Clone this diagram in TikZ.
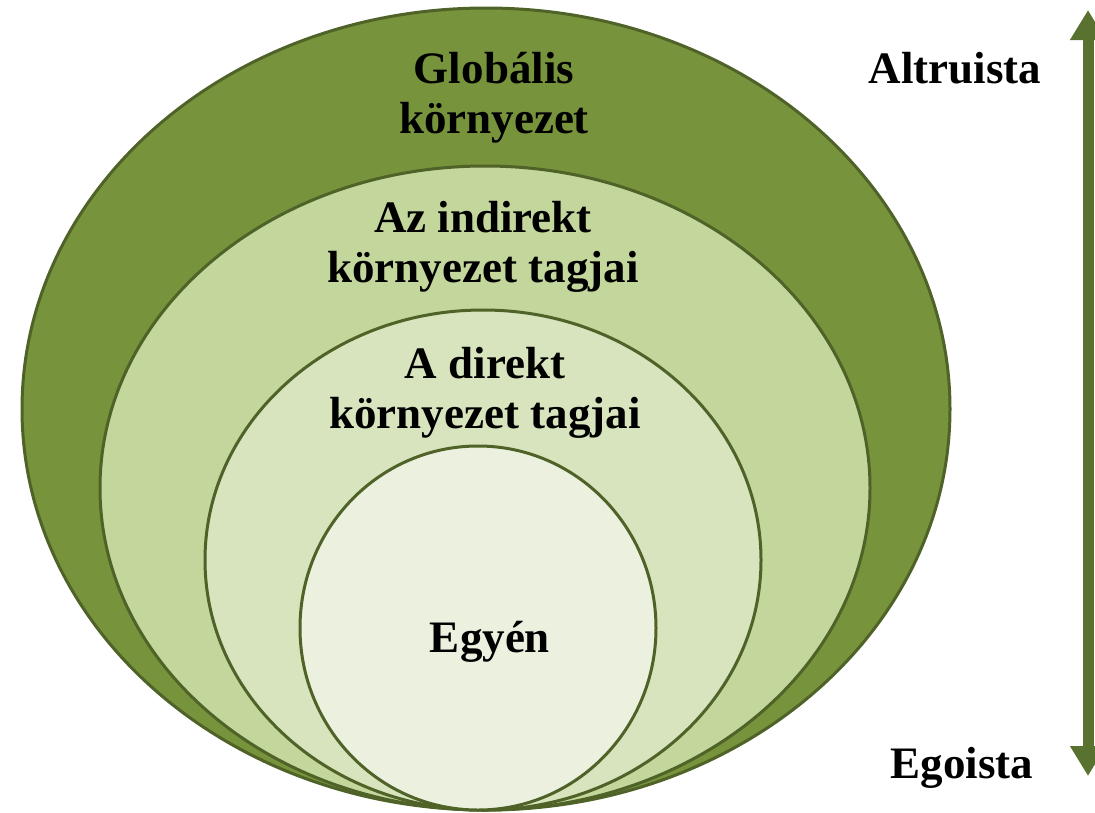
\documentclass[tikz,border=0pt]{standalone}
\usepackage{fontspec}
\setmainfont{Liberation Serif}
\usetikzlibrary{shapes.geometric,arrows.meta}
\definecolor{ringA}{HTML}{77933C}
\definecolor{ringB}{HTML}{C3D69B}
\definecolor{ringC}{HTML}{D7E4BD}
\definecolor{ringD}{HTML}{EBF1DE}
\definecolor{edgecol}{HTML}{4F6228}
\definecolor{arrowcol}{HTML}{5A7230}
\tikzset{
  ring/.style={ellipse, draw=edgecol, line width=3pt, inner sep=0pt, outer sep=0pt},
  lbl/.style={font=\bfseries\fontsize{45}{50}\selectfont, align=center, inner sep=0pt, text=black},
  axisarrow/.style={arrowcol, line width=11pt, {Triangle[width=34pt,length=30pt]}-{Triangle[width=34pt,length=30pt]}}
}
\begin{document}
\begin{tikzpicture}[x=1pt,y=-1pt]
\useasboundingbox (0,0) rectangle (1095,812);
\node[ring, fill=ringA, minimum width=928pt, minimum height=802pt] (global) at (486,409) {};
\node[ring, fill=ringB, minimum width=770pt, minimum height=644pt] (indirect) at (485,488) {};
\node[ring, fill=ringC, minimum width=556pt, minimum height=500pt] (direct) at (483,560) {};
\node[ring, fill=ringD, minimum width=356pt, minimum height=364pt] (self) at (478,628) {};
\node[lbl] (tglobal) at (494,98) {Globális\\környezet};
\node[lbl] (tindirect) at (483,247) {Az indirekt\\környezet tagjai};
\node[lbl] (tdirect) at (485,393) {A direkt\\környezet tagjai};
\node[lbl, anchor=base] (tself) at (490,652) {Egyén};
\node[lbl, anchor=base] (altru) at (955,83) {Altruista};
\node[lbl, anchor=base] (ego) at (962,778) {Egoista};
\coordinate (atop) at (1088,10);
\coordinate (abot) at (1088,776);
\draw[axisarrow] (abot) -- (atop);
\end{tikzpicture}
\end{document}
